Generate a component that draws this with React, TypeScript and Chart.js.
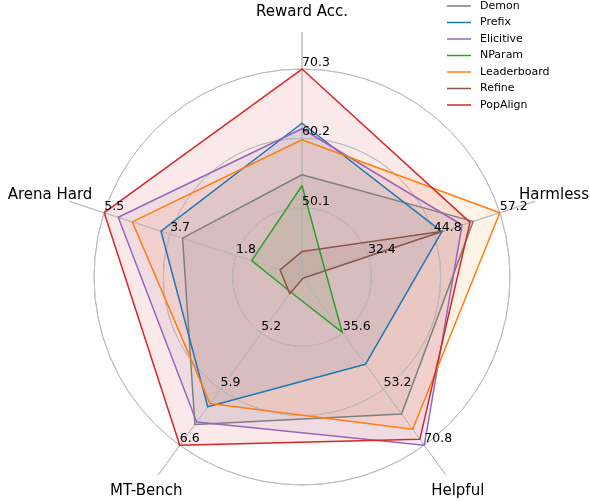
import React, { useEffect, useRef } from "react";
import { Chart, registerables } from "chart.js";

Chart.register(...registerables);

// Axes (clockwise from top)
const AXES = ["Reward Acc.", "Harmless", "Helpful", "MT-Bench", "Arena Hard"];
const AXIS_MIN = [40.0, 20.0, 18.0, 4.5, 0.0];
const AXIS_MAX = [70.3, 57.2, 70.8, 6.6, 5.5];
const TICK_LABELS = [
  ["50.1", "60.2", "70.3"],
  ["32.4", "44.8", "57.2"],
  ["35.6", "53.2", "70.8"],
  ["5.2", "5.9", "6.6"],
  ["1.8", "3.7", "5.5"],
];

// Series (raw values per axis)
const SERIES = ["Demon", "Prefix", "Elicitive", "NParam", "Leaderboard", "Refine", "PopAlign"];
const demon = [54.9, 52.2, 61.0, 6.34, 3.32];
const prefix = [62.4, 46.3, 45.4, 6.12, 3.92];
const elicitive = [61.6, 50.1, 70.8, 6.31, 5.11];
const nparam = [53.3, 24.3, 35.4, 4.69, 1.4];
const leaderboard = [60.0, 57.2, 65.8, 6.08, 4.72];
const refine = [43.7, 46.5, 18.4, 4.71, 0.61];
const popalign = [70.3, 51.6, 68.9, 6.6, 5.5];
const VALUES = [demon, prefix, elicitive, nparam, leaderboard, refine, popalign];
const COLORS = ["#7f7f7f", "#1f77b4", "#9467bd", "#2ca02c", "#ff7f0e", "#8c564b", "#d62728"];

const SCALE_MAX = 1.178; // spokes extend past the outer ring
const LABEL_DIST = 1.274;
const FONT = "'DejaVu Sans', sans-serif";

function hexA(hex: string, a: number) {
  const n = parseInt(hex.slice(1), 16);
  return `rgba(${(n >> 16) & 255},${(n >> 8) & 255},${n & 255},${a})`;
}

const norm = (i: number, v: number) => (v - AXIS_MIN[i]) / (AXIS_MAX[i] - AXIS_MIN[i]);
const N = SERIES.length;

const overlay = {
  id: "overlay",
  beforeDatasetDraw(chart: any, args: any) {
    // grid sits above the translucent fills but below the outlines
    if (args.index === N) chart.scales.r.drawGrid();
  },
  afterDatasetsDraw(chart: any) {
    const scale = chart.scales.r;
    const ctx = chart.ctx;
    ctx.save();
    ctx.fillStyle = "#000";
    ctx.font = `12.5px ${FONT}`;
    ctx.textAlign = "left";
    ctx.textBaseline = "bottom";
    AXES.forEach((_, i) => {
      TICK_LABELS[i].forEach((t, k) => {
        const p = scale.getPointPositionForValue(i, (k + 1) / 3);
        ctx.fillText(t, p.x, p.y);
      });
    });
    ctx.font = `15px ${FONT}`;
    ctx.textAlign = "center";
    ctx.textBaseline = "middle";
    AXES.forEach((lab, i) => {
      const p = scale.getPointPositionForValue(i, LABEL_DIST);
      ctx.fillText(lab, p.x, p.y);
    });
    // legend
    ctx.font = `11px ${FONT}`;
    ctx.textAlign = "left";
    ctx.textBaseline = "middle";
    SERIES.forEach((name, j) => {
      const y = 6 + 16.5 * j;
      ctx.strokeStyle = COLORS[j];
      ctx.lineWidth = 1.5;
      ctx.beginPath();
      ctx.moveTo(447, y);
      ctx.lineTo(471, y);
      ctx.stroke();
      ctx.fillStyle = "#000";
      ctx.fillText(name, 480, y);
    });
    ctx.restore();
  },
};

export default function App() {
  const ref = useRef<HTMLCanvasElement | null>(null);
  useEffect(() => {
    if (!ref.current) return;
    const fills = SERIES.map((name, j) => ({
      label: name + " fill",
      data: VALUES[j].map((v, i) => norm(i, v)),
      borderColor: "rgba(0,0,0,0)",
      backgroundColor: hexA(COLORS[j], 0.1),
      borderWidth: 0,
      fill: true,
      pointRadius: 0,
      pointHoverRadius: 0,
      order: 100 + (N - j),
    }));
    const lines = SERIES.map((name, j) => ({
      label: name,
      data: VALUES[j].map((v, i) => norm(i, v)),
      borderColor: COLORS[j],
      backgroundColor: "rgba(0,0,0,0)",
      borderWidth: 1.5,
      borderJoinStyle: "round" as const,
      fill: false,
      pointRadius: 0,
      pointHoverRadius: 0,
      order: N - j,
    }));
    const chart = new Chart(ref.current, {
      type: "radar",
      data: { labels: AXES, datasets: [...fills, ...lines] },
      options: {
        responsive: false,
        animation: false,
        layout: { padding: { left: 57, right: 43, top: 32, bottom: 18 } },
        plugins: { legend: { display: false }, tooltip: { enabled: false } },
        scales: {
          r: {
            min: 0,
            max: SCALE_MAX,
            afterBuildTicks: (s: any) => {
              s.ticks = [0, 1 / 3, 2 / 3, 1].map((v) => ({ value: v }));
            },
            ticks: { display: false },
            pointLabels: { display: false },
            grid: { circular: true, color: "#bdbdbd", lineWidth: 1 },
            angleLines: { display: true, color: "#bdbdbd", lineWidth: 1 },
          },
        },
      },
      plugins: [overlay],
    });
    return () => chart.destroy();
  }, []);
  return (
    <div
      style={{
        position: "fixed",
        left: 0,
        top: 0,
        width: 590,
        height: 501,
        overflow: "hidden",
        background: "#fff",
      }}
    >
      <canvas ref={ref} width={590} height={540} style={{ display: "block" }} />
    </div>
  );
}
